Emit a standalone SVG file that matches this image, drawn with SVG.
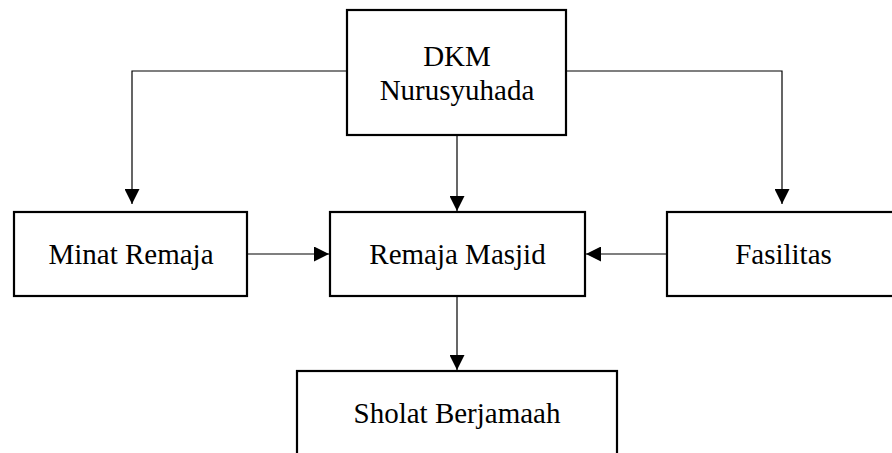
<svg xmlns="http://www.w3.org/2000/svg" width="892" height="453" viewBox="0 0 892 453">
<defs>
<marker id="ah" markerWidth="15" markerHeight="15" viewBox="0 0 15 15" refX="15" refY="7.5" orient="auto" markerUnits="userSpaceOnUse">
<path d="M0,0 L15,7.5 L0,15 Z" fill="#000"/>
</marker>
<style>
.box{fill:#fff;stroke:#000;stroke-width:2.2}
.lbl{font-family:"Liberation Serif","Times New Roman",serif;font-size:29px;fill:#000;text-anchor:middle}
.con{fill:none;stroke:#000;stroke-width:1.2;marker-end:url(#ah)}
</style>
</defs>
<rect width="892" height="453" fill="#fff"/>
<g id="connectors">
<path class="con" d="M347,71 H132 V204"/>
<path class="con" d="M566,71 H782 V204"/>
<path class="con" d="M457,135 V211"/>
<path class="con" d="M247,254 H329"/>
<path class="con" d="M667,254 H586"/>
<path class="con" d="M457,296 V370"/>
</g>
<g id="dkm">
<rect class="box" x="347" y="10" width="219" height="125"/>
<text class="lbl" x="457" y="66">DKM</text>
<text class="lbl" x="457" y="100">Nurusyuhada</text>
</g>
<g id="minat">
<rect class="box" x="14" y="212" width="233" height="84"/>
<text class="lbl" x="131" y="264">Minat Remaja</text>
</g>
<g id="remaja">
<rect class="box" x="330" y="212" width="255" height="84"/>
<text class="lbl" x="457.5" y="264">Remaja Masjid</text>
</g>
<g id="fasilitas">
<rect class="box" x="667" y="212" width="240" height="84"/>
<text class="lbl" x="783.5" y="264">Fasilitas</text>
</g>
<g id="sholat">
<rect class="box" x="297" y="371" width="320" height="100"/>
<text class="lbl" x="457" y="423">Sholat Berjamaah</text>
</g>
</svg>
